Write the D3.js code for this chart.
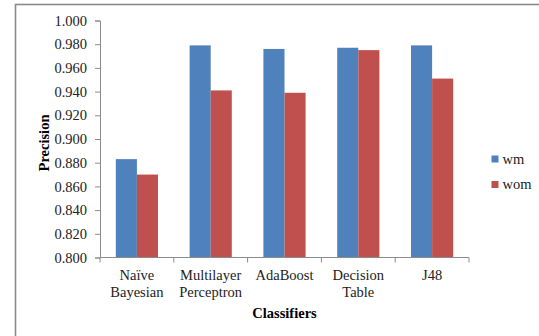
<!DOCTYPE html>
<html>
<head>
<meta charset="utf-8">
<script src="https://cdn.jsdelivr.net/npm/d3@7"></script>
</head>
<body style="margin:0;padding:0;background:#fff">
<svg id="chart" width="539" height="336" style="display:block"></svg>
<script>
// Classifier precision with (wm) and without (wom) the extra feature set
const classifiers = [["Naïve", "Bayesian"], ["Multilayer", "Perceptron"], ["AdaBoost"], ["Decision", "Table"], ["J48"]];
const seriesNames = ["wm", "wom"];
const wmValues  = [0.883, 0.979, 0.976, 0.977, 0.979];
const womValues = [0.870, 0.941, 0.939, 0.975, 0.951];
const yTicks = [0.800, 0.820, 0.840, 0.860, 0.880, 0.900, 0.920, 0.940, 0.960, 0.980, 1.000];
const colors = ["#4F81BD", "#C0504D"];

const FONT = "'Liberation Serif', 'Times New Roman', serif";
const FS = "14.5px";
const svg = d3.select("#chart");
const W = 539, H = 336;
const plot = { left: 100, right: 469, top: 20.5, bottom: 257.5 };

// outer chart frame (right and bottom edges fall outside the view)
svg.append("rect")
  .attr("x", 15.5).attr("y", 4.5)
  .attr("width", W + 10).attr("height", H + 10)
  .attr("fill", "none").attr("stroke", "#8a8a8a").attr("stroke-width", 1.6);

const keys = classifiers.map((c, i) => i);
const x = d3.scaleBand().domain(keys).range([plot.left, plot.right]).paddingInner(0).paddingOuter(0);
const barW = x.bandwidth() / 3.5;           // 150% gap between clusters
const xs = d3.scaleBand().domain(seriesNames).range([0, barW * 2]);
const y = d3.scaleLinear().domain([0.8, 1.0]).range([plot.bottom, plot.top]);

// bars
const data = keys.map(i => ({ i, vals: [wmValues[i], womValues[i]] }));
const groups = svg.append("g").selectAll("g").data(data).join("g")
  .attr("transform", d => `translate(${x(d.i) + (x.bandwidth() - barW * 2) / 2},0)`);
groups.selectAll("rect").data(d => d.vals.map((v, k) => ({ v, k })))
  .join("rect")
  .attr("x", d => xs(seriesNames[d.k]))
  .attr("width", xs.bandwidth())
  .attr("y", d => y(d.v))
  .attr("height", d => y(0.8) - y(d.v))
  .attr("fill", d => colors[d.k]);

// y axis
const yAxis = d3.axisLeft(y).tickValues(yTicks).tickFormat(d3.format(".3f")).tickSize(5).tickPadding(8);
const gy = svg.append("g").attr("transform", `translate(${plot.left},0)`).call(yAxis);
gy.select(".domain").attr("stroke", "#8c8c8c");
gy.selectAll(".tick line").attr("stroke", "#8c8c8c");
gy.selectAll(".tick text").style("font-family", FONT).style("font-size", FS).attr("fill", "#222");

// x axis: boundary ticks between categories
const gx = svg.append("g").attr("transform", `translate(0,${plot.bottom})`);
gx.append("line").attr("x1", plot.left).attr("x2", plot.right).attr("stroke", "#8c8c8c");
const bounds = keys.map(i => x(i)).concat([plot.right]);
gx.selectAll("line.tk").data(bounds).join("line").attr("class", "tk")
  .attr("x1", d => d).attr("x2", d => d).attr("y1", 0).attr("y2", 5).attr("stroke", "#8c8c8c");
gx.selectAll("text.cat").data(data).join("text").attr("class", "cat")
  .attr("x", d => x(d.i) + x.bandwidth() / 2)
  .attr("text-anchor", "middle")
  .style("font-family", FONT).style("font-size", FS).attr("fill", "#222")
  .each(function(d) {
    const t = d3.select(this);
    classifiers[d.i].forEach((line, li) => {
      t.append("tspan").attr("x", x(d.i) + x.bandwidth() / 2).attr("y", 22.5 + li * 17).text(line);
    });
  });

// axis titles
svg.append("text")
  .attr("x", (plot.left + plot.right) / 2).attr("y", 317.5)
  .attr("text-anchor", "middle")
  .style("font-family", FONT).style("font-weight", "bold").style("font-size", FS)
  .text("Classifiers");
svg.append("text")
  .attr("transform", `translate(48.5,${(plot.top + plot.bottom) / 2 + 4}) rotate(-90)`)
  .attr("text-anchor", "middle")
  .style("font-family", FONT).style("font-weight", "bold").style("font-size", FS)
  .text("Precision");

// legend
const legend = svg.append("g").selectAll("g").data(seriesNames).join("g")
  .attr("transform", (d, k) => `translate(491.5,${155.5 + k * 25.5})`);
legend.append("rect").attr("width", 7).attr("height", 7).attr("fill", (d, k) => colors[k]);
legend.append("text").attr("x", 11).attr("y", 8)
  .style("font-family", FONT).style("font-size", FS).attr("fill", "#222").text(d => d);
</script>
</body>
</html>
